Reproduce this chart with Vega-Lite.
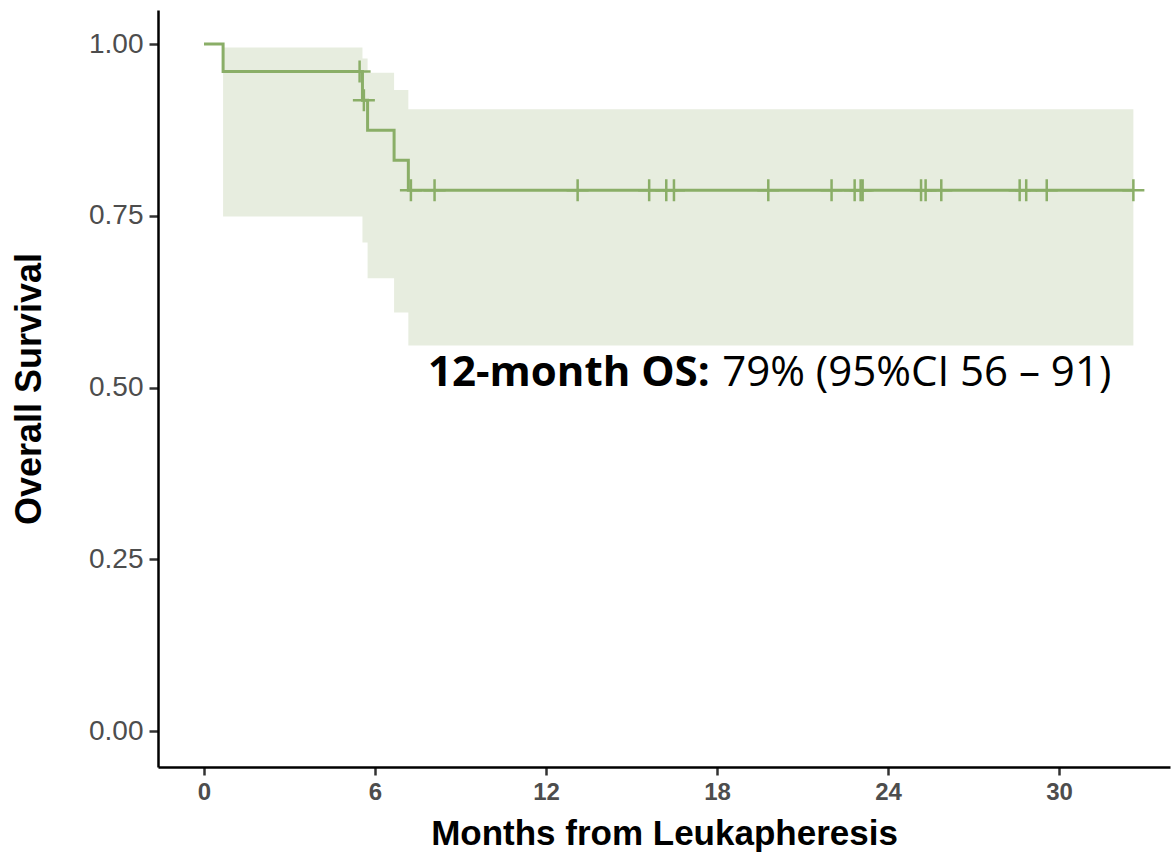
{
  "$schema": "https://vega.github.io/schema/vega-lite/v6.json",
  "autosize": {"type": "none"},
  "width": 1012,
  "height": 757,
  "padding": {"left": 158, "top": 10, "right": 3, "bottom": 85},
  "background": "white",
  "config": {
    "view": {"stroke": null},
    "axis": {
      "grid": false,
      "domainColor": "#000000",
      "domainWidth": 2.5,
      "tickColor": "#333333",
      "tickWidth": 2.5,
      "labelFont": "Liberation Sans",
      "titleFont": "Liberation Sans",
      "titleColor": "#000000",
      "titleFontWeight": "bold"
    }
  },
  "datasets": {
    "curve": [
      {"month": 0, "surv": 1.0},
      {"month": 0.67, "surv": 0.96},
      {"month": 5.56, "surv": 0.9183},
      {"month": 5.74, "surv": 0.8746},
      {"month": 6.67, "surv": 0.8308},
      {"month": 7.17, "surv": 0.7871},
      {"month": 32.61, "surv": 0.7871}
    ],
    "band": [
      {"month": 0.67, "upper": 0.995, "lower": 0.749},
      {"month": 5.56, "upper": 0.979, "lower": 0.711},
      {"month": 5.74, "upper": 0.958, "lower": 0.659},
      {"month": 6.67, "upper": 0.933, "lower": 0.609},
      {"month": 7.17, "upper": 0.905, "lower": 0.561},
      {"month": 32.61, "upper": 0.905, "lower": 0.561}
    ],
    "censor": [
      {"month": 5.46, "surv": 0.96},
      {"month": 5.61, "surv": 0.9183},
      {"month": 7.26, "surv": 0.7871},
      {"month": 8.09, "surv": 0.7871},
      {"month": 13.11, "surv": 0.7871},
      {"month": 15.62, "surv": 0.7871},
      {"month": 16.22, "surv": 0.7871},
      {"month": 16.49, "surv": 0.7871},
      {"month": 19.8, "surv": 0.7871},
      {"month": 22.02, "surv": 0.7871},
      {"month": 22.83, "surv": 0.7871},
      {"month": 23.04, "surv": 0.7871},
      {"month": 23.11, "surv": 0.7871},
      {"month": 25.16, "surv": 0.7871},
      {"month": 25.32, "surv": 0.7871},
      {"month": 25.87, "surv": 0.7871},
      {"month": 28.62, "surv": 0.7871},
      {"month": 28.85, "surv": 0.7871},
      {"month": 29.57, "surv": 0.7871},
      {"month": 32.61, "surv": 0.7871}
    ],
    "notes": [
      {"month": 7.86, "surv": 0.502, "label": "12-month OS:", "part": "bold"},
      {"month": 18.18, "surv": 0.502, "label": "79% (95%CI 56 – 91)", "part": "normal"}
    ]
  },
  "layer": [
    {
      "data": {"name": "band"},
      "mark": {"type": "area", "interpolate": "step-after", "color": "#e7eddf", "opacity": 1},
      "encoding": {
        "x": {
          "field": "month", "type": "quantitative",
          "scale": {"domain": [-1.614, 33.895], "nice": false, "zero": false},
          "axis": {
            "values": [0, 6, 12, 18, 24, 30],
            "title": "Months from Leukapheresis",
            "titleFontSize": 35,
            "titlePadding": 12,
            "labelFontSize": 24,
            "labelFontWeight": "bold",
            "labelColor": "#4d4d4d",
            "tickSize": 8,
            "labelPadding": 5
          }
        },
        "y": {
          "field": "upper", "type": "quantitative",
          "scale": {"domain": [-0.0524, 1.0495], "nice": false, "zero": false},
          "axis": {
            "values": [0, 0.25, 0.5, 0.75, 1],
            "format": ".2f",
            "title": "Overall Survival",
            "titleFontSize": 36,
            "titlePadding": 40,
            "labelFontSize": 28,
            "labelColor": "#4d4d4d",
            "tickSize": 9,
            "labelPadding": 6
          }
        },
        "y2": {"field": "lower"}
      }
    },
    {
      "data": {"name": "curve"},
      "mark": {"type": "line", "interpolate": "step-after", "color": "#8aae67", "strokeWidth": 3},
      "encoding": {
        "x": {"field": "month", "type": "quantitative"},
        "y": {"field": "surv", "type": "quantitative"}
      }
    },
    {
      "data": {"name": "censor"},
      "mark": {"type": "point", "shape": "M-1,0H1M0,-1V1", "size": 484, "filled": false, "color": "#8aae67", "strokeWidth": 2.5, "opacity": 1},
      "encoding": {
        "x": {"field": "month", "type": "quantitative"},
        "y": {"field": "surv", "type": "quantitative"}
      }
    },
    {
      "data": {"name": "notes"},
      "transform": [{"filter": "datum.part === 'bold'"}],
      "mark": {"type": "text", "align": "left", "baseline": "alphabetic", "font": "Open Sans", "fontSize": 42, "fontWeight": "bold", "color": "#000000"},
      "encoding": {
        "x": {"field": "month", "type": "quantitative"},
        "y": {"field": "surv", "type": "quantitative"},
        "text": {"field": "label"}
      }
    },
    {
      "data": {"name": "notes"},
      "transform": [{"filter": "datum.part === 'normal'"}],
      "mark": {"type": "text", "align": "left", "baseline": "alphabetic", "font": "Open Sans", "fontSize": 42, "fontWeight": "normal", "color": "#000000"},
      "encoding": {
        "x": {"field": "month", "type": "quantitative"},
        "y": {"field": "surv", "type": "quantitative"},
        "text": {"field": "label"}
      }
    }
  ]
}
